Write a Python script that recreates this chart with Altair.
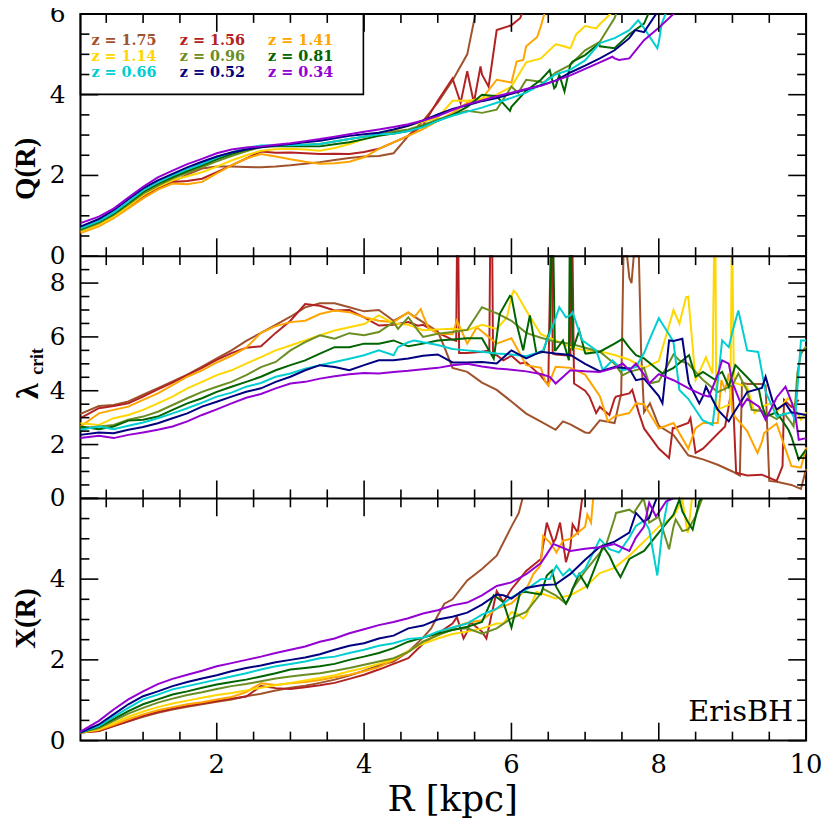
import altair as alt
import pandas as pd

# ---------------- data ----------------
R_GRID = [0.15, 0.4, 0.6, 0.8, 1.0, 1.2, 1.4, 1.6, 1.8, 2.0,
          2.2, 2.4, 2.6, 2.8, 3.0, 3.2, 3.4, 3.6, 3.8, 4.0,
          4.2, 4.4, 4.6, 4.8, 5.0, 5.2, 5.4, 5.6, 5.8, 6.0,
          6.2, 6.4, 6.6, 6.8, 7.0, 7.2, 7.4, 7.6, 7.8, 8.0,
          8.2, 8.4, 8.6, 8.8, 9.0, 9.2, 9.4, 9.6, 9.8, 10.0]

Z_LABELS = ["1.75", "1.56", "1.41", "1.14", "0.96", "0.81", "0.66", "0.52", "0.34"]
COLORS = ["#a0522d", "#b22222", "#ffa500", "#ffd700", "#6b8e23",
          "#006400", "#00ced1", "#000080", "#9400d3"]

# Q(R) panel
Q_Z175 = [0.61, 0.77, 0.96, 1.20, 1.45, 1.66, 1.84, 2.02, 2.17, 2.22,
          2.22, 2.21, 2.20, 2.22, 2.25, 2.29, 2.33, 2.38, 2.43, 2.47,
          2.48, 2.55, 2.98, 3.35, 3.80, 4.35, 5.00, 6.80]
Q_Z156 = [0.60, 0.76, 0.96, 1.20, 1.47, 1.68, 1.84, 1.86, 1.92, 2.08,
          2.25, 2.42, 2.59, 2.56, 2.57, 2.55, 2.53, 2.54, 2.53, 2.58,
          2.66, 2.82, 2.98, 3.25, 3.85, 4.40, 4.58, 4.50, 5.60, 5.72,
          6.30]
Q_Z141 = [0.57, 0.74, 0.94, 1.18, 1.43, 1.65, 1.80, 1.78, 1.84, 2.05,
          2.25, 2.42, 2.53, 2.47, 2.40, 2.34, 2.29, 2.30, 2.34, 2.45,
          2.66, 2.82, 2.98, 3.15, 3.35, 3.55, 3.80, 3.90, 4.37, 4.30,
          5.20, 5.70, 7.00]
Q_Z114 = [0.61, 0.78, 0.98, 1.24, 1.51, 1.72, 1.88, 1.98, 2.08, 2.22,
          2.37, 2.50, 2.61, 2.65, 2.66, 2.64, 2.61, 2.68, 2.78, 2.90,
          3.02, 3.12, 3.23, 3.33, 3.43, 3.85, 3.85, 3.90, 4.00, 4.20,
          4.80, 4.90, 5.25, 5.15, 5.70, 5.75, 6.10, 6.80]
Q_Z096 = [0.64, 0.82, 1.02, 1.28, 1.55, 1.75, 1.92, 2.07, 2.21, 2.35,
          2.48, 2.60, 2.70, 2.73, 2.74, 2.76, 2.78, 2.84, 2.90, 2.96,
          3.02, 3.08, 3.14, 3.25, 3.39, 3.50, 3.60, 3.55, 3.63, 4.20,
          4.37, 4.32, 4.55, 4.74, 5.10, 5.31, 5.90, 6.80]
Q_Z081 = [0.67, 0.85, 1.05, 1.31, 1.59, 1.79, 1.96, 2.11, 2.25, 2.40,
          2.53, 2.64, 2.72, 2.73, 2.72, 2.72, 2.72, 2.77, 2.82, 2.90,
          2.98, 3.04, 3.10, 3.22, 3.35, 3.50, 3.70, 4.00, 3.96, 3.70,
          4.10, 4.37, 4.20, 4.75, 4.98, 5.20, 5.15, 5.50, 5.76, 6.60]
Q_Z066 = [0.69, 0.87, 1.08, 1.35, 1.63, 1.83, 2.00, 2.15, 2.29, 2.44,
          2.57, 2.68, 2.74, 2.75, 2.75, 2.76, 2.78, 2.84, 2.90, 2.96,
          3.02, 3.03, 3.10, 3.20, 3.35, 3.48, 3.58, 3.68, 3.80, 3.92,
          4.05, 4.25, 4.50, 4.62, 4.85, 5.28, 5.40, 5.60, 5.65, 5.30,
          6.50]
Q_Z052 = [0.73, 0.92, 1.14, 1.41, 1.68, 1.88, 2.04, 2.20, 2.34, 2.47,
          2.57, 2.64, 2.70, 2.74, 2.78, 2.82, 2.86, 2.92, 2.98, 3.02,
          3.06, 3.14, 3.23, 3.36, 3.51, 3.65, 3.74, 3.84, 3.92, 4.02,
          4.13, 4.23, 4.35, 4.55, 4.72, 4.90, 5.10, 5.40, 5.55, 6.10]
Q_Z034 = [0.82, 0.98, 1.18, 1.45, 1.72, 1.95, 2.12, 2.28, 2.41, 2.55,
          2.64, 2.69, 2.72, 2.76, 2.80, 2.85, 2.90, 2.96, 3.02, 3.08,
          3.14, 3.20, 3.27, 3.36, 3.47, 3.62, 3.76, 3.86, 3.96, 4.05,
          4.14, 4.22, 4.35, 4.48, 4.64, 4.80, 4.90, 4.90, 5.35, 5.66,
          6.00, 6.80]
Q_EX_175 = []
Q_EX_156 = [(5.31, 3.80), (5.49, 3.80), (5.58, 4.70), (5.69, 4.20), (6.12, 5.90)]
Q_EX_141 = [(6.07, 4.82), (6.16, 4.86), (6.35, 5.43)]
Q_EX_114 = [(6.65, 5.23), (6.88, 5.50), (7.15, 5.64), (7.23, 5.80)]
Q_EX_096 = [(6.09, 4.04), (6.43, 4.29)]
Q_EX_081 = [(5.98, 3.60), (6.52, 4.61), (6.58, 4.16), (6.65, 4.49), (6.72, 4.08),
            (6.83, 4.82), (7.19, 5.27)]
Q_EX_066 = [(7.72, 5.84), (7.98, 5.15), (8.04, 5.76)]
Q_EX_052 = [(7.68, 5.60)]
Q_EX_034 = [(7.37, 4.94), (7.46, 4.86)]

# lambda_crit panel
L_Z175 = [3.14, 3.43, 3.47, 3.60, 3.85, 4.10, 4.35, 4.60, 4.90, 5.20,
          5.50, 5.85, 6.15, 6.45, 6.75, 7.10, 7.25, 7.25, 7.10, 6.95,
          7.00, 6.60, 6.90, 6.55, 6.20, 4.85, 4.70, 4.30, 4.03, 3.60,
          3.15, 2.85, 2.55, 2.75, 2.45, 2.90, 2.80, 8.20, 3.20, 2.70,
          2.36, 1.60, 1.45, 1.25, 1.00, 4.25, 4.25, 0.62, 0.50, 1.10]
L_Z156 = [2.98, 3.35, 3.43, 3.53, 3.78, 4.05, 4.30, 4.58, 4.85, 5.15,
          5.40, 5.60, 5.65, 6.15, 6.60, 7.22, 7.16, 6.98, 7.00, 6.73,
          6.42, 6.45, 6.55, 6.45, 6.15, 5.90, 5.40, 5.45, 5.32, 5.30,
          5.05, 4.55, 5.35, 5.30, 4.00, 3.40, 3.70, 3.90, 2.60, 1.85,
          2.60, 2.80, 1.85, 2.40, 4.20, 0.85, 0.88, 0.65, 3.40, None]
L_Z141 = [2.67, 3.16, 3.29, 3.41, 3.66, 3.90, 4.21, 4.52, 4.76, 5.05,
          5.30, 5.60, 6.15, 6.40, 6.55, 6.60, 6.85, 6.98, 6.92, 6.73,
          6.60, 6.55, 6.92, 6.80, 6.12, 6.10, 5.75, 6.20, 5.75, 5.95,
          4.95, 4.85, 4.89, 4.85, 4.60, 3.80, 3.05, 3.17, 3.50, 2.60,
          2.80, 1.85, 2.80, 2.80, 3.15, 2.50, 2.10, 2.78, 1.20, 1.90]
L_Z114 = [2.79, 2.73, 2.98, 3.10, 3.29, 3.53, 3.78, 4.09, 4.33, 4.58,
          4.76, 5.01, 5.25, 5.50, 5.68, 5.87, 6.06, 6.24, 6.36, 6.48,
          6.80, 6.50, 6.45, 6.25, 6.28, 6.30, 6.25, 6.45, 6.30, 7.50,
          6.98, 6.10, 5.87, 5.62, 5.50, 5.47, 5.33, 5.15, 4.85, 5.10,
          7.00, 7.50, 5.00, 3.30, 10.0, 4.15, 3.41, 3.20, 3.60, 3.20]
L_Z096 = [2.61, 2.67, 2.73, 2.92, 3.04, 3.22, 3.47, 3.72, 3.96, 4.15,
          4.33, 4.58, 4.88, 5.07, 5.50, 5.81, 6.06, 5.93, 6.14, 6.06,
          6.18, 6.55, 6.73, 6.00, 6.12, 6.18, 6.26, 7.10, 6.88, 6.60,
          6.15, 5.97, 5.82, 5.75, 5.60, 5.45, 5.00, 4.70, 4.85, 4.35,
          5.35, 5.00, 4.40, 3.95, 4.20, 4.00, 3.25, 2.95, 2.80, 5.65]
L_Z081 = [2.67, 2.57, 2.67, 2.89, 2.92, 3.04, 3.29, 3.53, 3.72, 3.96,
          4.15, 4.33, 4.52, 4.76, 4.95, 5.13, 5.38, 5.62, 5.62, 5.75,
          5.75, 5.87, 5.65, 5.75, 5.87, 5.90, 5.95, 5.95, 6.00, 7.50,
          6.10, 5.42, 5.50, 10.0, 5.40, 5.45, 5.75, 5.60, 5.20, 4.75,
          4.85, 5.30, 4.70, 4.60, 4.60, 4.50, 3.50, 3.20, 2.30, 1.81]
L_Z066 = [2.55, 2.67, 2.57, 2.70, 2.82, 2.98, 3.16, 3.35, 3.56, 3.78,
          3.93, 4.15, 4.29, 4.52, 4.64, 4.82, 4.95, 5.07, 5.19, 5.32,
          5.50, 5.32, 5.80, 5.80, 5.70, 5.55, 5.50, 5.45, 5.38, 5.35,
          5.28, 5.45, 6.70, 6.80, 5.80, 5.10, 5.05, 4.82, 5.40, 6.70,
          5.80, 3.70, 2.90, 4.30, 6.20, 5.50, 4.70, 3.05, 3.20, 5.87]
L_Z052 = [2.36, 2.45, 2.42, 2.55, 2.65, 2.79, 2.98, 3.16, 3.41, 3.59,
          3.78, 3.96, 4.09, 4.33, 4.52, 4.76, 4.95, 4.88, 4.76, 4.95,
          5.13, 5.13, 5.20, 5.30, 5.35, 5.05, 5.05, 5.07, 5.01, 5.50,
          5.20, 5.45, 5.38, 5.33, 5.00, 4.72, 4.88, 4.83, 4.45, 3.80,
          5.85, 4.40, 3.80, 3.30, 3.10, 3.95, 4.10, 3.30, 3.20, 3.10]
L_Z034 = [2.24, 2.33, 2.24, 2.36, 2.45, 2.55, 2.67, 2.86, 3.10, 3.31,
          3.53, 3.74, 3.88, 4.09, 4.27, 4.33, 4.45, 4.54, 4.61, 4.66,
          4.64, 4.70, 4.74, 4.80, 4.85, 4.95, 5.00, 4.90, 4.83, 4.78,
          4.72, 4.62, 4.27, 4.76, 4.72, 4.70, 4.85, 4.76, 4.60, 4.62,
          4.39, 4.10, 3.84, 4.60, 4.30, 3.70, 3.20, 3.75, 3.60, 2.24]
L_EX_175 = [(4.73, 6.67), (5.09, 5.62), (6.70, 2.86), (7.06, 2.43), (7.49, 3.90),
            (7.52, 10.0), (7.57, 10.0), (7.63, 8.00), (7.66, 10.0), (7.73, 10.0),
            (7.76, 5.50), (7.88, 3.53), (9.10, 0.85), (9.13, 4.30), (9.45, 4.20),
            (9.50, 0.65), (9.93, 0.35)]
L_EX_156 = [(4.73, 6.42), (5.25, 5.85), (5.26, 10.0), (5.28, 10.0), (5.29, 5.40),
            (5.70, 5.50), (5.71, 10.0), (5.74, 10.0), (5.75, 5.35), (5.89, 5.13),
            (6.12, 5.01), (6.39, 4.58), (6.50, 4.21), (6.53, 10.0), (6.55, 10.0),
            (6.56, 5.38), (6.81, 10.0), (6.83, 10.0), (6.85, 4.27), (7.06, 3.78),
            (7.15, 3.17), (7.33, 3.10), (7.42, 3.78), (7.64, 4.03), (7.73, 3.17),
            (8.14, 1.50), (8.19, 2.61), (8.43, 2.98), (8.50, 1.69), (8.90, 2.67),
            (9.05, 0.95), (9.68, 1.20), (9.70, 3.66), (9.90, 3.66)]
L_EX_141 = [(4.68, 6.73), (4.77, 7.04), (4.87, 6.36), (5.26, 6.61), (5.53, 6.36),
            (6.46, 4.33), (6.50, 4.21), (7.31, 2.86), (7.69, 3.53), (8.50, 2.61),
            (8.85, 4.40), (8.90, 4.03), (8.95, 4.64), (9.34, 1.69), (9.43, 2.43),
            (9.93, 1.14)]
L_EX_114 = [(5.94, 6.73), (6.03, 7.72), (6.07, 7.60), (8.28, 6.49), (8.37, 7.47),
            (8.50, 4.40), (8.64, 5.25), (8.73, 4.64), (8.75, 10.0), (8.77, 10.0),
            (8.78, 3.30), (8.97, 3.50), (8.99, 10.0), (9.02, 4.30), (9.30, 3.17),
            (9.52, 3.53), (9.75, 3.72), (9.93, 2.92)]
L_EX_096 = [(4.46, 6.30), (4.73, 6.24), (5.76, 6.92), (7.51, 4.58), (7.87, 4.27),
            (8.28, 5.13), (9.08, 4.64), (9.26, 3.29), (9.70, 3.17), (9.83, 2.67),
            (9.88, 4.64), (9.93, 5.38)]
L_EX_081 = [(5.76, 5.19), (5.84, 6.85), (5.98, 7.53), (6.07, 6.49), (6.16, 5.50),
            (6.25, 6.80), (6.34, 5.38), (6.43, 5.44), (6.52, 6.24), (6.54, 10.0),
            (6.57, 10.0), (6.59, 5.50), (6.70, 5.87), (6.78, 5.13), (6.79, 10.0),
            (6.81, 10.0), (6.83, 5.50), (6.92, 6.24), (7.01, 5.38), (7.51, 5.93),
            (7.69, 5.32), (8.05, 4.64), (8.41, 5.32), (8.50, 4.52), (8.77, 4.40),
            (8.86, 4.70), (8.95, 4.15), (9.04, 4.95), (9.36, 4.03), (9.45, 3.04),
            (9.76, 2.55), (9.90, 1.44)]
L_EX_066 = [(4.46, 5.62), (4.68, 5.87), (6.43, 5.50), (6.65, 7.10), (6.74, 6.73),
            (6.83, 6.92), (6.96, 5.87), (7.15, 5.50), (7.24, 4.76), (7.37, 5.13),
            (7.51, 4.76), (7.69, 4.89), (7.87, 5.87), (8.19, 5.87), (8.28, 4.03),
            (8.59, 2.92), (8.73, 2.73), (8.86, 5.87), (8.95, 5.62), (9.08, 6.98),
            (9.35, 5.44), (9.45, 3.96), (9.85, 2.92), (9.93, 5.87)]
L_EX_052 = [(7.69, 4.39), (8.05, 3.53), (8.14, 5.87), (8.32, 5.93), (8.41, 4.27),
            (8.55, 3.53), (8.64, 4.15), (8.95, 2.86), (9.45, 4.52), (9.54, 3.66),
            (9.72, 3.53)]
L_EX_034 = [(6.52, 4.52), (7.51, 5.01), (7.69, 5.01), (7.87, 4.27), (8.68, 3.78),
            (8.86, 5.13), (8.95, 5.01), (9.13, 3.41), (9.36, 3.41), (9.45, 2.92),
            (9.72, 4.15), (9.85, 3.17), (9.90, 2.18)]

# X(R) panel
X_Z175 = [0.20, 0.24, 0.36, 0.48, 0.59, 0.69, 0.77, 0.84, 0.90, 0.96,
          1.02, 1.10, 1.16, 1.24, 1.31, 1.36, 1.43, 1.51, 1.61, 1.73,
          1.86, 1.96, 2.20, 2.55, 3.10, 3.50, 3.97, 4.25, 4.58, 5.30]
X_Z156 = [0.20, 0.24, 0.36, 0.48, 0.61, 0.71, 0.79, 0.86, 0.92, 0.98,
          1.04, 1.09, 1.35, 1.30, 1.28, 1.32, 1.37, 1.43, 1.53, 1.63,
          1.76, 1.90, 2.04, 2.40, 2.65, 2.90, 2.70, 2.70, 3.70, 3.75,
          4.20, 4.50, 5.00, 4.80]
X_Z141 = [0.20, 0.26, 0.39, 0.53, 0.65, 0.75, 0.83, 0.90, 0.95, 1.02,
          1.08, 1.20, 1.42, 1.38, 1.42, 1.45, 1.50, 1.57, 1.63, 1.72,
          1.82, 2.00, 2.20, 2.45, 2.61, 2.80, 2.92, 2.98, 3.27, 3.40,
          3.75, 4.40, 4.70, 5.00, 5.30]
X_Z114 = [0.20, 0.28, 0.43, 0.59, 0.72, 0.83, 0.92, 0.99, 1.06, 1.13,
          1.18, 1.24, 1.31, 1.37, 1.43, 1.49, 1.55, 1.62, 1.72, 1.80,
          1.90, 2.02, 2.22, 2.40, 2.53, 2.64, 2.70, 2.78, 2.90, 3.18,
          3.10, 3.65, 3.52, 3.60, 3.80, 4.15, 4.28, 4.58, 4.93, 5.30,
          5.55, 5.20]
X_Z096 = [0.20, 0.31, 0.49, 0.67, 0.81, 0.94, 1.04, 1.13, 1.20, 1.28,
          1.35, 1.40, 1.47, 1.54, 1.59, 1.63, 1.67, 1.73, 1.80, 1.88,
          1.96, 2.04, 2.20, 2.45, 2.61, 2.75, 2.78, 2.65, 2.78, 3.03,
          3.19, 3.65, 3.60, 3.60, 4.20, 4.65, 5.50, 5.72, 5.95, 5.55,
          5.30, 5.23]
X_Z081 = [0.20, 0.34, 0.53, 0.73, 0.90, 1.02, 1.14, 1.22, 1.31, 1.39,
          1.45, 1.51, 1.59, 1.67, 1.76, 1.80, 1.84, 1.90, 2.00, 2.08,
          2.17, 2.29, 2.45, 2.55, 2.65, 2.74, 2.82, 2.94, 3.55, 2.80,
          3.68, 3.62, 3.85, 3.60, 3.90, 4.60, 4.30, 4.50, 4.70, 5.15,
          5.60, 5.40]
X_Z066 = [0.20, 0.36, 0.59, 0.81, 1.02, 1.14, 1.27, 1.35, 1.43, 1.51,
          1.59, 1.67, 1.76, 1.84, 1.90, 1.96, 2.04, 2.08, 2.17, 2.25,
          2.35, 2.41, 2.52, 2.55, 2.70, 2.80, 2.90, 3.12, 3.27, 3.55,
          3.74, 4.00, 4.30, 4.23, 4.25, 4.99, 4.70, 5.03, 5.45, 4.40]
X_Z052 = [0.20, 0.40, 0.65, 0.90, 1.10, 1.22, 1.35, 1.45, 1.54, 1.62,
          1.72, 1.80, 1.86, 1.94, 2.00, 2.06, 2.14, 2.25, 2.35, 2.41,
          2.53, 2.60, 2.78, 2.85, 3.00, 3.07, 3.17, 3.37, 3.62, 3.52,
          3.78, 3.85, 3.87, 4.13, 4.48, 4.80, 4.93, 5.15, 5.42]
X_Z034 = [0.22, 0.49, 0.77, 1.02, 1.22, 1.40, 1.53, 1.63, 1.73, 1.84,
          1.92, 2.00, 2.08, 2.17, 2.25, 2.33, 2.45, 2.53, 2.66, 2.76,
          2.86, 2.94, 3.03, 3.15, 3.23, 3.35, 3.42, 3.60, 3.83, 3.92,
          4.12, 4.40, 4.85, 4.70, 4.75, 4.79, 4.87, 4.70, 5.30, 5.65,
          6.00]
X_EX_175 = [(4.91, 2.78), (5.09, 3.39), (6.10, 5.64), (6.15, 6.00)]
X_EX_156 = [(5.26, 3.06), (5.35, 2.53), (5.44, 2.94), (5.66, 2.53), (5.89, 3.43),
            (6.48, 5.40), (6.57, 4.91), (6.66, 5.40), (6.74, 4.42), (6.83, 5.36),
            (6.90, 5.15), (6.96, 6.00)]
X_EX_141 = [(6.30, 4.13), (6.39, 4.33), (6.43, 5.07), (6.52, 4.91), (6.61, 4.66),
            (6.70, 4.95), (7.03, 5.60), (7.08, 5.40), (7.11, 6.00)]
X_EX_114 = [(5.89, 2.90), (6.07, 3.15), (6.16, 3.02), (6.34, 3.68), (8.32, 5.97),
            (8.39, 5.15), (8.45, 6.00)]
X_EX_096 = [(6.43, 3.76), (6.74, 3.39), (6.83, 3.76), (7.28, 4.82), (7.42, 5.64),
            (7.66, 5.64), (7.78, 5.97), (7.87, 5.40), (8.14, 4.74), (8.23, 5.48),
            (8.32, 5.19), (8.50, 5.56), (8.59, 6.00)]
X_EX_081 = [(5.76, 3.60), (5.89, 3.43), (6.12, 3.68), (6.48, 4.09), (6.55, 4.21),
            (6.61, 3.80), (6.74, 3.39), (6.83, 3.76), (6.92, 4.13), (7.03, 3.80),
            (7.24, 4.82), (7.33, 4.58), (7.48, 4.05), (8.28, 5.97), (8.32, 5.68),
            (8.46, 5.23), (8.55, 5.93), (8.58, 6.00)]
X_EX_066 = [(6.52, 4.00), (6.61, 4.33), (6.70, 4.09), (6.79, 4.25), (6.88, 4.05),
            (7.10, 4.62), (7.33, 4.74), (7.46, 4.66), (7.69, 5.32), (7.87, 5.23),
            (7.98, 4.09), (8.05, 5.23), (8.12, 5.93), (8.13, 6.00)]
X_EX_052 = [(5.89, 3.60), (7.69, 5.64), (7.87, 5.52), (7.97, 6.00)]
X_EX_034 = [(6.48, 4.62), (6.57, 4.87), (7.69, 5.03), (7.87, 5.89), (7.96, 5.56),
            (8.10, 5.93)]

# axis ticks / labels
X_MAJOR = [2, 4, 6, 8, 10]
X_MINOR = [0.5, 1, 1.5, 2.5, 3, 3.5, 4.5, 5, 5.5, 6.5, 7, 7.5, 8.5, 9, 9.5]
Y_MAJOR_Q = [0, 2, 4, 6]
Y_MINOR_Q = [0.5, 1, 1.5, 2.5, 3, 3.5, 4.5, 5, 5.5]
Y_MAJOR_L = [0, 2, 4, 6, 8]
Y_MINOR_L = [0.5, 1, 1.5, 2.5, 3, 3.5, 4.5, 5, 5.5, 6.5, 7, 7.5, 8.5]
Y_LABELS_Q = [0, 2, 4, 6]
Y_LABELS_L = [0, 2, 4, 6, 8]
Y_LABELS_X = [0, 2, 4]

# ---------------- build tables ----------------
Q_SERIES = [Q_Z175, Q_Z156, Q_Z141, Q_Z114, Q_Z096, Q_Z081, Q_Z066, Q_Z052, Q_Z034]
Q_EXTRAS = [Q_EX_175, Q_EX_156, Q_EX_141, Q_EX_114, Q_EX_096, Q_EX_081, Q_EX_066, Q_EX_052, Q_EX_034]
L_SERIES = [L_Z175, L_Z156, L_Z141, L_Z114, L_Z096, L_Z081, L_Z066, L_Z052, L_Z034]
L_EXTRAS = [L_EX_175, L_EX_156, L_EX_141, L_EX_114, L_EX_096, L_EX_081, L_EX_066, L_EX_052, L_EX_034]
X_SERIES = [X_Z175, X_Z156, X_Z141, X_Z114, X_Z096, X_Z081, X_Z066, X_Z052, X_Z034]
X_EXTRAS = [X_EX_175, X_EX_156, X_EX_141, X_EX_114, X_EX_096, X_EX_081, X_EX_066, X_EX_052, X_EX_034]


def build(series, extras):
    rows = []
    for k, (vals, ex) in enumerate(zip(series, extras)):
        z = Z_LABELS[k]
        for r, v in zip(R_GRID, vals):
            if v is not None:
                rows.append({"z": z, "k": k, "R": r, "v": v})
        for r, v in ex:
            rows.append({"z": z, "k": k, "R": r, "v": v})
    return pd.DataFrame(rows)


df_q = build(Q_SERIES, Q_EXTRAS)
df_l = build(L_SERIES, L_EXTRAS)
df_x = build(X_SERIES, X_EXTRAS)

# ---------------- layout ----------------
W, PH = 731, 244
H = 3 * PH
MAJ, MIN = 18, 9
XSCALE = alt.Scale(domain=[0.15, 10.0], nice=False, zero=False)
COLOR_SCALE = alt.Scale(domain=Z_LABELS, range=COLORS)

PANELS = [
    (df_q, [0, 6], [PH, 0], Y_MAJOR_Q, Y_MINOR_Q, Y_LABELS_Q),
    (df_l, [0, 9], [2 * PH, PH], Y_MAJOR_L, Y_MINOR_L, Y_LABELS_L),
    (df_x, [0, 6], [3 * PH, 2 * PH], Y_MAJOR_Q, Y_MINOR_Q, Y_LABELS_X),
]

ONE = pd.DataFrame({"a": [0]})
layers = []

for p, (df, dom, rng, ymaj, ymin, ylab) in enumerate(PANELS):
    ys = alt.Scale(domain=dom, range=rng, nice=False, zero=False, clamp=(p != 0))
    layers.append(
        alt.Chart(df).mark_line(strokeWidth=2, clip=(p == 0)).encode(
            x=alt.X("R:Q", scale=XSCALE, axis=None),
            y=alt.Y("v:Q", scale=ys, axis=None),
            color=alt.Color("z:N", scale=COLOR_SCALE, legend=None),
            detail="k:N",
        )
    )
    top, bot = rng[1], rng[0]
    # x ticks (top & bottom of each panel, inward)
    for vals, L in ((X_MAJOR, MAJ), (X_MINOR, MIN)):
        tdf = pd.DataFrame({"t": vals})
        for y0, y1 in ((top, top + L), (bot - L, bot)):
            layers.append(
                alt.Chart(tdf).mark_rule(color="black", strokeWidth=1.6).encode(
                    x=alt.X("t:Q", scale=XSCALE, axis=None),
                    y=alt.value(y0), y2=alt.value(y1))
            )
    # y ticks (left & right, inward)
    for vals, L in ((ymaj, MAJ), (ymin, MIN)):
        tdf = pd.DataFrame({"t": vals})
        for x0, x1 in ((0, L), (W - L, W)):
            layers.append(
                alt.Chart(tdf).mark_rule(color="black", strokeWidth=1.6).encode(
                    y=alt.Y("t:Q", scale=alt.Scale(domain=dom, range=rng, nice=False, zero=False), axis=None),
                    x=alt.value(x0), x2=alt.value(x1))
            )
    # y tick labels
    ldf = pd.DataFrame({"t": ylab})
    layers.append(
        alt.Chart(ldf).mark_text(font="DejaVu Serif", fontSize=25, align="right",
                                 baseline="middle", color="black").encode(
            y=alt.Y("t:Q", scale=alt.Scale(domain=dom, range=rng, nice=False, zero=False), axis=None),
            x=alt.value(-15), text="t:Q")
    )

# panel separators
for yy in (PH, 2 * PH):
    layers.append(alt.Chart(ONE).mark_rule(color="black", strokeWidth=2).encode(
        x=alt.value(0), x2=alt.value(W), y=alt.value(yy)))

# x tick labels
layers.append(
    alt.Chart(pd.DataFrame({"t": X_MAJOR})).mark_text(
        font="DejaVu Serif", fontSize=26, align="center", baseline="alphabetic", color="black").encode(
        x=alt.X("t:Q", scale=XSCALE, axis=None), y=alt.value(H + 33), text="t:Q")
)


def text_layer(txt, x, y, size, font="DejaVu Serif", weight="normal", angle=0,
               align="center", baseline="middle", color="black"):
    return alt.Chart(pd.DataFrame({"t": [txt]})).mark_text(
        font=font, fontSize=size, fontWeight=weight, angle=angle, align=align,
        baseline=baseline, color=color).encode(x=alt.value(x), y=alt.value(y), text="t:N")


# axis titles
layers.append(text_layer("Q(R)", -55, 156, 29, font="Liberation Serif", weight="bold", angle=270))
layers.append(text_layer("λ", -53, 380, 32, font="Liberation Serif", weight="bold", angle=270))
layers.append(text_layer("crit", -43, 350, 18, font="Liberation Serif", weight="bold", angle=270))
layers.append(text_layer("X(R)", -55, 609, 29, font="Liberation Serif", weight="bold", angle=270))
layers.append(text_layer("R [kpc]", 375, 803, 36, baseline="alphabetic"))
layers.append(text_layer("ErisBH", 718, 712, 29, align="right", baseline="alphabetic"))

# legend box and entries
layers.append(alt.Chart(ONE).mark_rect(fill="white", fillOpacity=0, stroke="black", strokeWidth=1.6).encode(
    x=alt.value(0), x2=alt.value(285), y=alt.value(0), y2=alt.value(81)))
for i, (lab, col) in enumerate(zip(Z_LABELS, COLORS)):
    layers.append(text_layer("z = " + lab, 11 + 89 * (i % 3), 27 + 16.5 * (i // 3), 14.5,
                             weight="bold", align="left", color=col))

chart = alt.layer(*layers).resolve_scale(y="independent").properties(
    width=W, height=H,
    autosize=alt.AutoSizeParams(type="none"),
    padding={"left": 73, "top": 3, "right": 16, "bottom": 80},
).configure_view(stroke="black", strokeWidth=2)

chart.save("out.html", embed_options={"renderer": "svg", "actions": False})
